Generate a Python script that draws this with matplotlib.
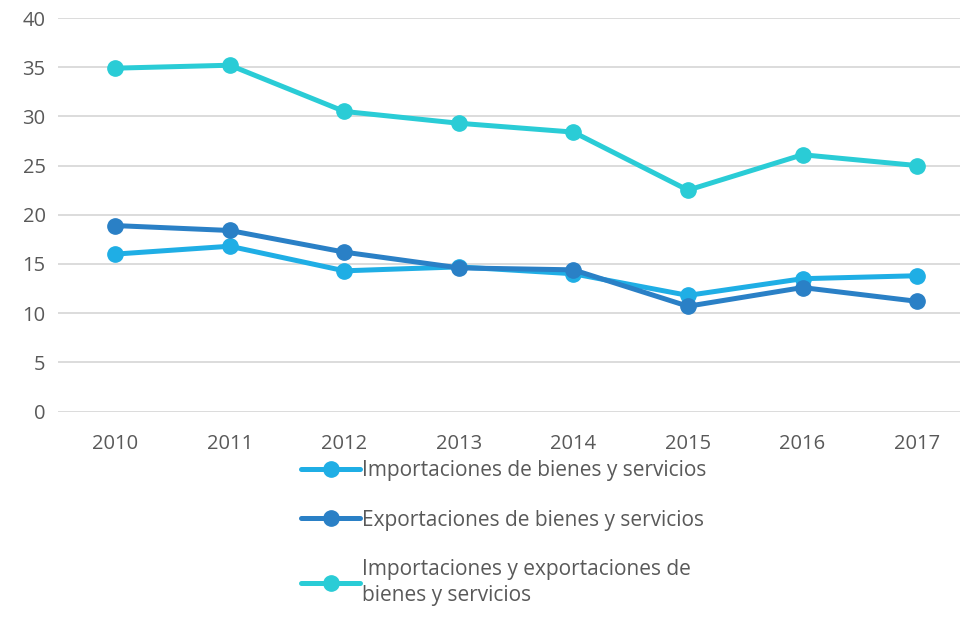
import matplotlib.pyplot as plt

# Datos (% del PIB)
years = ["2010", "2011", "2012", "2013", "2014", "2015", "2016", "2017"]
importaciones = [16.0, 16.8, 14.3, 14.7, 14.0, 11.8, 13.5, 13.8]
exportaciones = [18.9, 18.4, 16.2, 14.6, 14.4, 10.7, 12.6, 11.2]
total = [34.9, 35.2, 30.5, 29.3, 28.4, 22.5, 26.1, 25.0]

labels = [
    "Importaciones de bienes y servicios",
    "Exportaciones de bienes y servicios",
    "Importaciones y exportaciones de\nbienes y servicios",
]
colors = ["#1FAEE5", "#2A80C6", "#2ACCD6"]

plt.rcParams['font.family'] = ['Open Sans', 'DejaVu Sans']
text_color = "#595959"

fig = plt.figure(figsize=(9.64, 6.19), dpi=100)
ax = fig.add_axes([58 / 964, 1 - 411.5 / 619, 902 / 964, 393.5 / 619])

x = range(len(years))
for serie, label, color in zip([importaciones, exportaciones, total], labels, colors):
    ax.plot(x, serie, color=color, linewidth=3.6, marker='o', markersize=11,
            label=label, solid_capstyle='round')

ax.set_ylim(0, 40)
ax.set_yticks(range(0, 41, 5))
ax.set_xlim(-0.5, 7.375)
ax.set_xticks(list(x))
ax.set_xticklabels(years)

ax.grid(axis='y', color='#D9D9D9', linewidth=1.3)
ax.set_axisbelow(True)
for side in ['top', 'right', 'left', 'bottom']:
    ax.spines[side].set_visible(False)
ax.tick_params(length=0, labelsize=14.5, colors=text_color)
ax.tick_params(axis='x', pad=16)
ax.tick_params(axis='y', pad=9)

leg = fig.legend(loc='upper left', bbox_to_anchor=(291 / 964, 1 - 450 / 619),
                 frameon=False, fontsize=15, handlelength=2.8, handletextpad=0.1,
                 labelspacing=1.35, borderpad=0)
for t in leg.get_texts():
    t.set_color(text_color)
    t.set_linespacing(1.35)

fig.savefig("out.png", dpi=100)
